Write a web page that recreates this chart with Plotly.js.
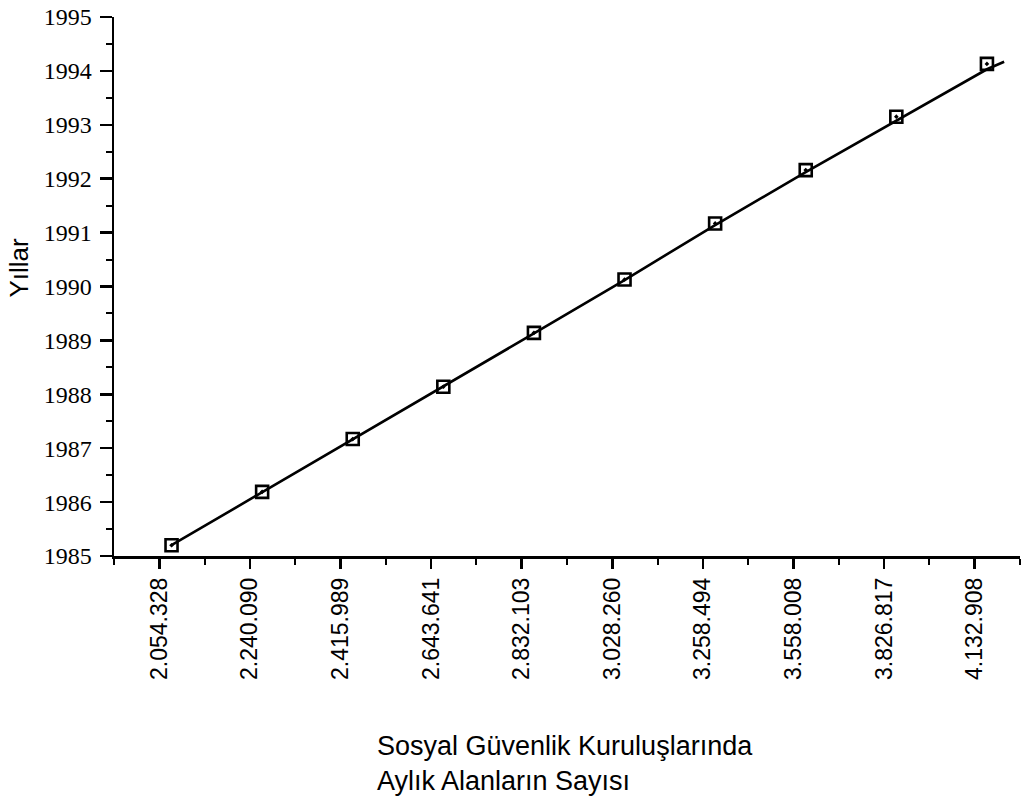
<!DOCTYPE html>
<html>
<head>
<meta charset="utf-8">
<script src="https://cdn.plot.ly/plotly-3.0.1.min.js"></script>
<style>html,body{margin:0;padding:0;background:#fff}#chart{width:1026px;height:797px}</style>
</head>
<body>
<div id="chart"></div>
<script>
// Tick labels (number of people receiving monthly payments)
const tickLabels = ["2.054.328","2.240.090","2.415.989","2.643.641","2.832.103","3.028.260","3.258.494","3.558.008","3.826.817","4.132.908"];
// category positions of the observations
const positions = [0,1,2,3,4,5,6,7,8,9];
// marker heights (years)
const yearValues = [1985.20,1986.19,1987.17,1988.14,1989.14,1990.13,1991.17,1992.16,1993.15,1994.13];
// fitted line
const lineX = [0,1,2,3,4,5,6,7,8,9,9.19];
const lineY = [1985.20,1986.18,1987.16,1988.14,1989.13,1990.12,1991.14,1992.12,1993.08,1994.03,1994.17];
const yearTicks = [1985,1986,1987,1988,1989,1990,1991,1992,1993,1994,1995];

const tickShift = 0.135; // ticks sit slightly left of the markers
const majorVals = positions.map(p => p - tickShift);
const minorVals = [-0.5].concat(positions.map(p => p + 0.5)).map(v => v - tickShift);

const traces = [
  {x: lineX, y: lineY, mode: 'lines', type: 'scatter',
   line: {color: '#000', width: 2.6}, hoverinfo: 'skip', showlegend: false},
  {x: positions, y: yearValues, mode: 'markers', type: 'scatter',
   marker: {symbol: 'square-open-dot', size: 12, color: '#000', line: {width: 2.6, color: '#000'}},
   showlegend: false}
];

const sans = 'Liberation Sans, Arial, sans-serif';

const layout = {
  width: 1026, height: 797,
  margin: {l: 114, r: 6, t: 17, b: 241},
  paper_bgcolor: '#fff', plot_bgcolor: '#fff',
  showlegend: false,
  xaxis: {
    range: [-0.5 - tickShift, 9.5 - tickShift],
    tickmode: 'array', tickvals: majorVals, ticktext: tickLabels,
    tickangle: -90,
    ticks: 'outside', ticklen: 10, tickwidth: 2.5, tickcolor: '#000',
    minor: {tickmode: 'array', tickvals: minorVals, ticks: 'outside', ticklen: 6, tickwidth: 2, tickcolor: '#000'},
    showline: true, linecolor: '#000', linewidth: 2.5,
    showgrid: false, zeroline: false,
    tickfont: {family: sans, size: 23, color: '#000'},
    fixedrange: true
  },
  yaxis: {
    range: [1985, 1995],
    tickmode: 'array', tickvals: yearTicks,
    ticks: 'outside', ticklen: 12, tickwidth: 2.5, tickcolor: '#000',
    minor: {dtick: 0.5, ticks: 'outside', ticklen: 6, tickwidth: 2, tickcolor: '#000'},
    showline: true, linecolor: '#000', linewidth: 2.5,
    showgrid: false, zeroline: false,
    ticklabelstandoff: 3,
    tickfont: {family: 'Liberation Serif, Times New Roman, serif', size: 24, color: '#000'},
    fixedrange: true
  },
  annotations: [{
    xref: 'paper', yref: 'paper', x: 0.5, y: 0, yshift: -173, xshift: -2,
    xanchor: 'center', yanchor: 'top', align: 'left', showarrow: false,
    text: 'Sosyal Güvenlik Kuruluşlarında<br>Aylık Alanların Sayısı',
    font: {family: sans, size: 27, color: '#000'}
  }, {
    xref: 'paper', yref: 'paper', x: 0, y: 0.5, xshift: -96, yshift: 19,
    xanchor: 'center', yanchor: 'middle', textangle: -90, showarrow: false,
    text: 'Yıllar',
    font: {family: sans, size: 26, color: '#000'}
  }]
};

Plotly.newPlot('chart', traces, layout, {displayModeBar: false, staticPlot: true});
</script>
</body>
</html>
